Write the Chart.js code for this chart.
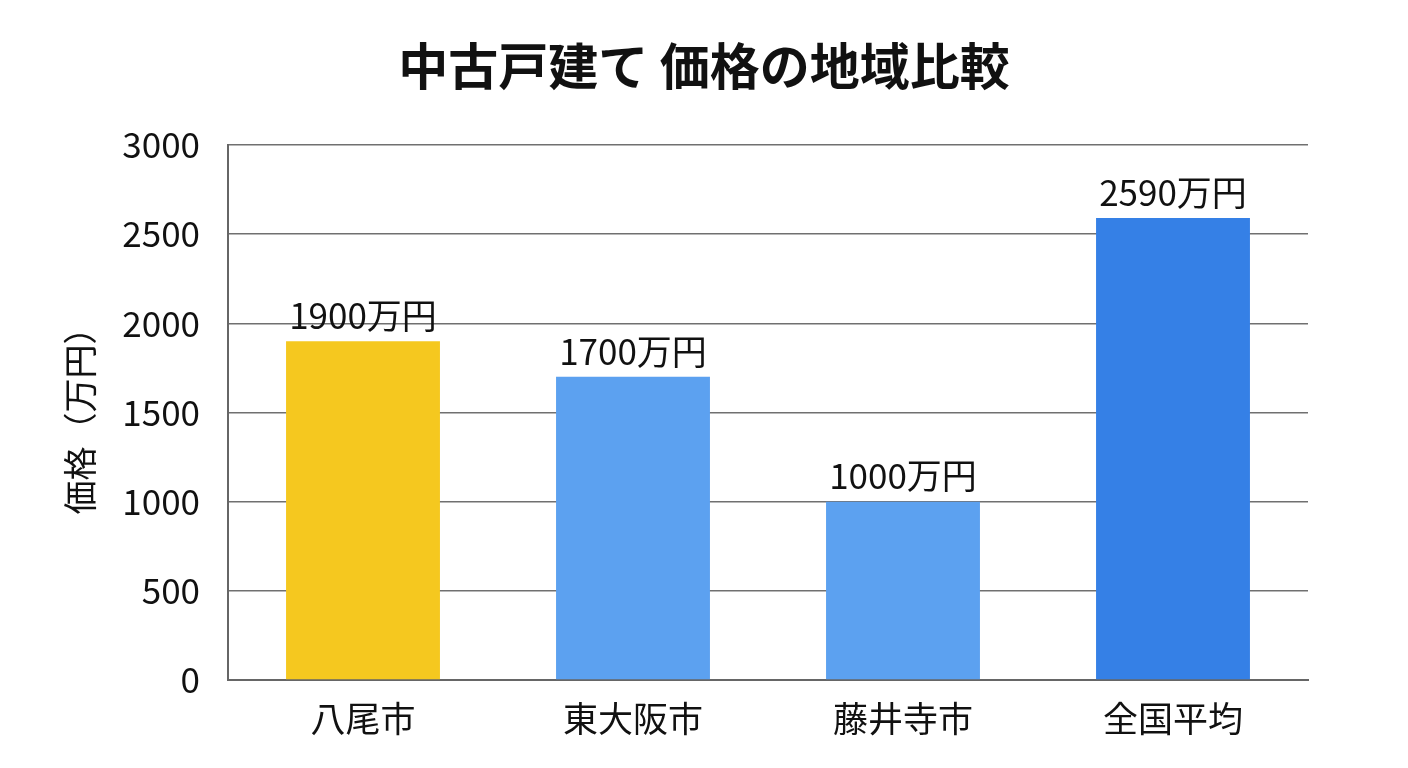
<!DOCTYPE html>
<html>
<head>
<meta charset="utf-8">
<script src="https://cdn.jsdelivr.net/npm/chart.js@4.4.0/dist/chart.umd.min.js"></script>
<style>
  body { margin: 0; background: #fff; }
  #wrap { width: 1408px; height: 768px; }
</style>
</head>
<body>
<div id="wrap"><canvas id="priceChart" width="1408" height="768"></canvas></div>
<script>
// data
var regions = ["八尾市", "東大阪市", "藤井寺市", "全国平均"];
var prices = [1900, 1700, 1000, 2590];
var barColors = ["#F5C81F", "#5CA1F0", "#5CA1F0", "#3580E6"];
var yTicks = [0, 500, 1000, 1500, 2000, 2500, 3000];
var unit = "万円";

var fontName = "'Noto Sans CJK JP', 'Noto Sans', sans-serif";

// labels above each bar
var valueLabels = {
    id: 'valueLabels',
    afterDatasetsDraw: function (chart) {
        var ctx = chart.ctx;
        var meta = chart.getDatasetMeta(0);
        ctx.save();
        ctx.font = "35px " + fontName;
        ctx.fillStyle = "#111";
        ctx.textAlign = "center";
        ctx.textBaseline = "bottom";
        meta.data.forEach(function (bar, i) {
            ctx.fillText(prices[i] + unit, bar.x, bar.y - 8);
        });
        ctx.restore();
    }
};

var ctx = document.getElementById("priceChart").getContext('2d');
var myChart = new Chart(ctx, {
    type: 'bar',
    data: {
        labels: regions,
        datasets: [{
            data: prices,
            backgroundColor: barColors,
            borderWidth: 0,
            categoryPercentage: 0.57,
            barPercentage: 1.0
        }]
    },
    options: {
        responsive: false,
        animation: false,
        layout: { padding: { left: 0, right: 0, top: 36, bottom: 18 } },
        plugins: {
            legend: { display: false },
            tooltip: { enabled: false },
            title: {
                display: true,
                text: "中古戸建て 価格の地域比較",
                color: "#111",
                font: { family: fontName, size: 50, weight: 'bold' },
                padding: { top: 0, bottom: 49 }
            }
        },
        scales: {
            x: {
                grid: { display: false },
                border: { color: "#666", width: 2 },
                ticks: {
                    color: "#111",
                    font: { family: fontName, size: 35 },
                    padding: 10
                }
            },
            y: {
                min: 0,
                max: 3000,
                afterBuildTicks: function (scale) {
                    scale.ticks = yTicks.map(function (v) { return { value: v }; });
                },
                afterFit: function (scale) { scale.width = 228; },
                grid: { color: "#707070", lineWidth: 1.5, drawTicks: false },
                border: { color: "#666", width: 2 },
                title: {
                    display: true,
                    text: "価格（万円）",
                    color: "#111",
                    font: { family: fontName, size: 34 },
                    padding: { top: 60, bottom: 10 }
                },
                ticks: {
                    color: "#111",
                    font: { family: fontName, size: 35 },
                    padding: 28,
                    callback: function (v) { return String(v); }
                }
            },
            // empty right margin so the title stays centred on the page
            spacer: {
                type: 'linear',
                position: 'right',
                display: true,
                afterFit: function (scale) { scale.width = 100; },
                grid: { display: false, drawTicks: false },
                border: { display: false },
                ticks: { display: false }
            }
        }
    },
    plugins: [valueLabels]
});
</script>
</body>
</html>
